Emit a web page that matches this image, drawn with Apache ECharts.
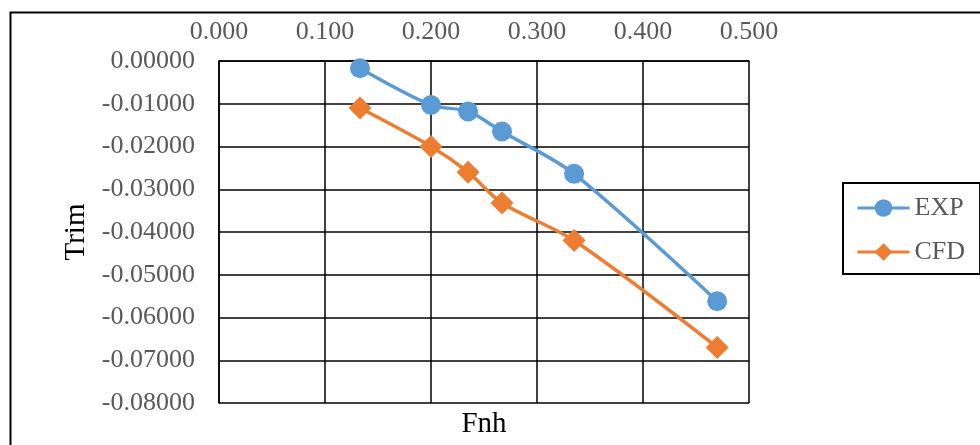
<!DOCTYPE html>
<html>
<head>
<meta charset="utf-8">
<script src="https://cdn.jsdelivr.net/npm/echarts@6/dist/echarts.min.js"></script>
<style>html,body{margin:0;padding:0;background:#fff}#c{width:980px;height:445px}</style>
</head>
<body>
<div id="c"></div>
<script>
const fnhValues = [0.133, 0.200, 0.235, 0.267, 0.335, 0.470];
const expTrim = [-0.0017, -0.0103, -0.0118, -0.0165, -0.0264, -0.0562];
const cfdTrim = [-0.0110, -0.0200, -0.0260, -0.0332, -0.0420, -0.0670];
const seriesNames = ['EXP', 'CFD'];
const xTitle = 'Fnh';
const yTitle = 'Trim';

const FONT = '"Liberation Serif", "Times New Roman", serif';
const chart = echarts.init(document.getElementById('c'), null, {renderer: 'canvas'});
const pair = (xs, ys) => xs.map((x, i) => [x, ys[i]]);

chart.setOption({
  animation: false,
  backgroundColor: '#fff',
  textStyle: {fontFamily: FONT},
  graphic: [{
    type: 'rect', left: 8, top: 10, silent: true,
    shape: {width: 1000, height: 460},
    style: {fill: 'none', stroke: '#000', lineWidth: 2}
  }],
  grid: {left: 219, top: 61, right: 231, bottom: 42, outerBoundsMode: 'none', containLabel: false},
  legend: {
    orient: 'vertical', left: 843, top: 183,
    padding: [12, 15, 9, 13],
    borderColor: '#000', borderWidth: 2,
    itemWidth: 52, itemHeight: 22, itemGap: 18,
    lineStyle: {width: 3},
    textStyle: {fontFamily: FONT, fontSize: 26, color: '#595959'},
    data: seriesNames
  },
  xAxis: [{
    type: 'value', position: 'top', min: 0, max: 0.5, interval: 0.1,
    axisLine: {show: true, lineStyle: {color: '#000', width: 1.5}},
    axisTick: {show: false},
    splitLine: {show: true, lineStyle: {color: '#000', width: 1.5}},
    axisLabel: {formatter: v => v.toFixed(3), fontFamily: FONT, fontSize: 26, color: '#595959', margin: 16}
  }, {
    type: 'value', position: 'bottom', min: 0, max: 0.5, interval: 0.1,
    axisLine: {show: false}, axisTick: {show: false}, axisLabel: {show: false}, splitLine: {show: false},
    name: xTitle, nameLocation: 'middle', nameGap: 7,
    nameTextStyle: {fontFamily: FONT, fontSize: 29, color: '#000'}
  }],
  yAxis: {
    type: 'value', min: -0.08, max: 0, interval: 0.01,
    axisLine: {show: true, lineStyle: {color: '#000', width: 1.5}},
    axisTick: {show: false},
    splitLine: {show: true, lineStyle: {color: '#000', width: 1.5}},
    axisLabel: {formatter: v => v.toFixed(5), fontFamily: FONT, fontSize: 26, color: '#595959', margin: 24},
    name: yTitle, nameLocation: 'middle', nameRotate: 90, nameGap: 128,
    nameTextStyle: {fontFamily: FONT, fontSize: 29, color: '#000'}
  },
  series: [{
    name: seriesNames[0], type: 'line', data: pair(fnhValues, expTrim),
    smooth: 0.3, symbol: 'circle', symbolSize: 20,
    lineStyle: {color: '#5B9BD5', width: 3.5},
    itemStyle: {color: '#5B9BD5'}
  }, {
    name: seriesNames[1], type: 'line', data: pair(fnhValues, cfdTrim),
    smooth: 0.3, symbol: 'diamond', symbolSize: 23,
    lineStyle: {color: '#ED7D31', width: 3.5},
    itemStyle: {color: '#ED7D31'}
  }]
});
</script>
</body>
</html>
